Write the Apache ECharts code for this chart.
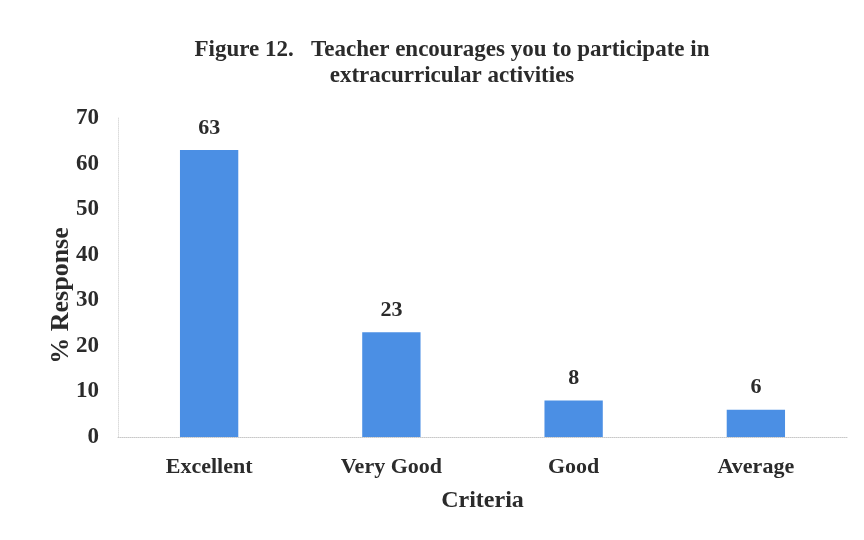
<!DOCTYPE html>
<html>
<head>
<meta charset="utf-8">
<script src="https://cdn.jsdelivr.net/npm/echarts@6/dist/echarts.min.js"></script>
<style>
  html, body { margin: 0; padding: 0; background: #fff; }
  #chart { width: 864px; height: 540px; }
</style>
</head>
<body>
<div id="chart"></div>
<script>
// 数据
const categories = ['Excellent', 'Very Good', 'Good', 'Average']
const responses = [63, 23, 8, 6]
const yTicks = { min: 0, max: 70, interval: 10 }

const serif = '"Liberation Serif", "DejaVu Serif", serif'
const textColor = '#2b2b2b'

const chart = echarts.init(document.getElementById('chart'))

const option = {
    backgroundColor: '#fff',
    animation: false,
    title: {
        text: 'Figure 12.   Teacher encourages you to participate in\nextracurricular activities',
        left: 447,
        top: 32,
        textAlign: 'center',
        textStyle: {
            fontFamily: serif,
            fontWeight: 'bold',
            fontSize: 23,
            lineHeight: 26,
            color: textColor
        }
    },
    grid: {
        left: 118,
        right: 17,
        top: 118,
        bottom: 103
    },
    xAxis: {
        type: 'category',
        data: categories,
        name: 'Criteria',
        nameLocation: 'middle',
        nameGap: 52,
        nameTextStyle: {
            fontFamily: serif,
            fontWeight: 'bold',
            fontSize: 24,
            color: textColor
        },
        axisLine: {
            lineStyle: { color: '#c8c8c8', type: 'dotted', width: 1 }
        },
        axisTick: { show: false },
        axisLabel: {
            margin: 19,
            fontFamily: serif,
            fontWeight: 'bold',
            fontSize: 22,
            color: textColor
        }
    },
    yAxis: {
        type: 'value',
        min: yTicks.min,
        max: yTicks.max,
        interval: yTicks.interval,
        name: '% Response',
        nameLocation: 'middle',
        nameGap: 44,
        nameMoveOverlap: false,
        nameTextStyle: {
            fontFamily: serif,
            fontWeight: 'bold',
            fontSize: 26,
            color: textColor,
            padding: [0, 36, 0, 0]
        },
        axisLine: {
            show: true,
            lineStyle: { color: '#dcdcdc', type: 'dotted', width: 1 }
        },
        axisTick: { show: false },
        splitLine: { show: false },
        axisLabel: {
            margin: 19,
            fontFamily: serif,
            fontWeight: 'bold',
            fontSize: 23,
            color: textColor
        }
    },
    series: [
        {
            type: 'bar',
            data: responses,
            barWidth: '32%',
            itemStyle: { color: '#4b8fe4' },
            label: {
                show: true,
                position: 'top',
                distance: 11,
                fontFamily: serif,
                fontWeight: 'bold',
                fontSize: 22,
                color: textColor
            }
        }
    ]
}

chart.setOption(option)
</script>
</body>
</html>
